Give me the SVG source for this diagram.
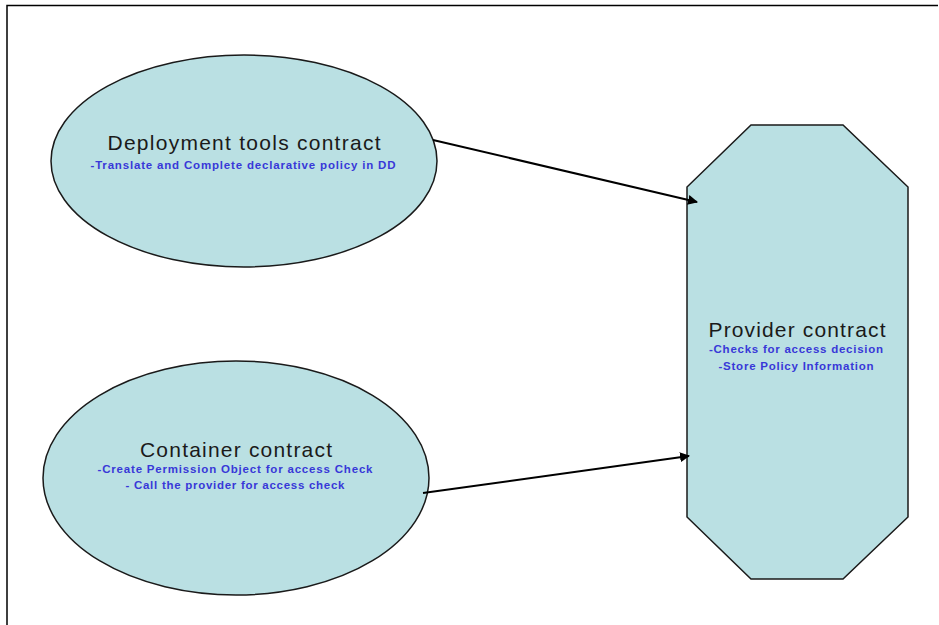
<svg xmlns="http://www.w3.org/2000/svg" width="939" height="625" viewBox="0 0 939 625">
  <style>
    .shape { fill: #bae0e3; stroke: #1a1a1a; stroke-width: 1.5; }
    .title { font-family: "Liberation Sans", Arial, sans-serif; font-size: 21px; fill: #1a1a1a; text-anchor: middle; }
    .sub { font-family: "Liberation Sans", Arial, sans-serif; font-size: 11.5px; font-weight: bold; fill: #3838d8; text-anchor: middle; }
    .conn { stroke: #000; stroke-width: 2; fill: none; marker-end: url(#arrow); }
  </style>
  <defs>
    <marker id="arrow" viewBox="0 0 10 10" refX="9" refY="5" markerWidth="5" markerHeight="5" orient="auto" markerUnits="strokeWidth">
      <path d="M0,0 L10,5 L0,10 Z" fill="#000"/>
    </marker>
  </defs>
  <rect width="939" height="625" fill="#fff"/>
  <path d="M7,625 L7,5.5 L938,5.5" fill="none" stroke="#000" stroke-width="1.5"/>

  <g id="deployment">
    <ellipse class="shape" cx="244" cy="161" rx="193" ry="106"/>
    <text class="title" x="244" y="150" textLength="273" lengthAdjust="spacing">Deployment tools contract</text>
    <text class="sub" x="243" y="169" textLength="305" lengthAdjust="spacing">-Translate and Complete declarative policy in DD</text>
  </g>

  <g id="container">
    <ellipse class="shape" cx="236" cy="478" rx="193" ry="117"/>
    <text class="title" x="236" y="457" textLength="192" lengthAdjust="spacing">Container contract</text>
    <text class="sub" x="235" y="473" textLength="275" lengthAdjust="spacing">-Create Permission Object for access Check</text>
    <text class="sub" x="235" y="489" textLength="219" lengthAdjust="spacing">- Call the provider for access check</text>
  </g>

  <g id="provider">
    <polygon class="shape" points="751,125 843,125 908,187 908,517 843,579 751,579 687,517 687,187"/>
    <text class="title" x="797" y="337" textLength="177" lengthAdjust="spacing">Provider contract</text>
    <text class="sub" x="796" y="353" textLength="174" lengthAdjust="spacing">-Checks for access decision</text>
    <text class="sub" x="796" y="370" textLength="155" lengthAdjust="spacing">-Store Policy Information</text>
  </g>

  <g id="connectors">
    <line class="conn" x1="433" y1="140" x2="697" y2="202"/>
    <line class="conn" x1="423" y1="493" x2="689" y2="456"/>
  </g>
</svg>
